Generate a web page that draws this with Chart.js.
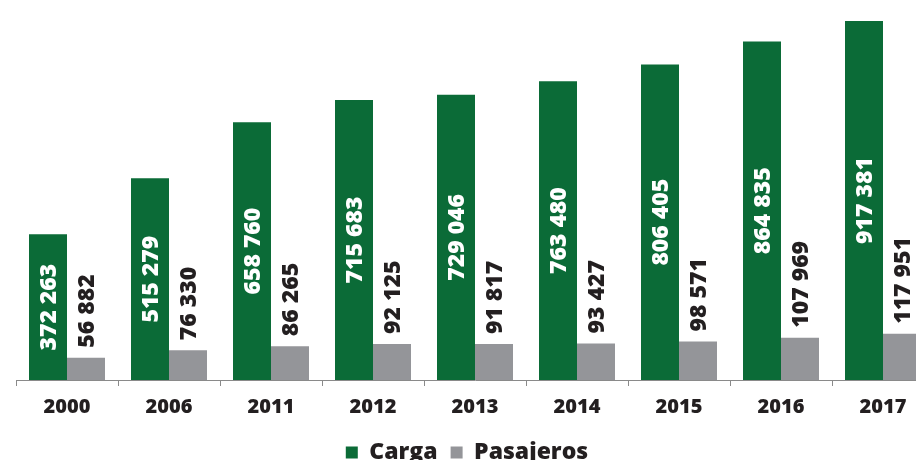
<!DOCTYPE html>
<html>
<head>
<meta charset="utf-8">
<script src="https://cdn.jsdelivr.net/npm/chart.js@4/dist/chart.umd.min.js"></script>
<style>
  html, body { margin: 0; padding: 0; background: #fff; overflow: hidden; }
  #wrap { width: 934px; height: 474px; }
</style>
</head>
<body>
<div id="wrap"><canvas id="chart" width="934" height="474"></canvas></div>
<script>
// Datos del gráfico
const years = ['2000', '2006', '2011', '2012', '2013', '2014', '2015', '2016', '2017'];
const carga = [372263, 515279, 658760, 715683, 729046, 763480, 806405, 864835, 917381];
const pasajeros = [56882, 76330, 86265, 92125, 91817, 93427, 98571, 107969, 117951];

const GREEN = '#0b6b37';
const GRAY = '#949599';
const TEXT = '#231f20';
const FONT = "'Open Sans', 'DejaVu Sans', sans-serif";

const fmt = v => String(v).replace(/\B(?=(\d{3})+(?!\d))/g, ' ');

// Etiquetas verticales sobre las barras
const valueLabels = {
    id: 'valueLabels',
    afterDatasetsDraw(chart) {
        const ctx = chart.ctx;
        ctx.save();
        ctx.font = `800 23px ${FONT}`;
        ctx.textBaseline = 'middle';
        chart.data.datasets.forEach((ds, di) => {
            const meta = chart.getDatasetMeta(di);
            meta.data.forEach((bar, i) => {
                const text = fmt(ds.data[i]);
                ctx.save();
                if (di === 0) {
                    ctx.translate(bar.x, (bar.y + bar.base) / 2);
                    ctx.rotate(-Math.PI / 2);
                    ctx.fillStyle = '#ffffff';
                    ctx.textAlign = 'center';
                } else {
                    ctx.translate(bar.x, bar.y - 10);
                    ctx.rotate(-Math.PI / 2);
                    ctx.fillStyle = TEXT;
                    ctx.textAlign = 'left';
                }
                ctx.fillText(text, 0, 1);
                ctx.restore();
            });
        });
        ctx.restore();
    }
};

new Chart(document.getElementById('chart'), {
    type: 'bar',
    data: {
        labels: years,
        datasets: [
            { label: 'Carga', data: carga, backgroundColor: GREEN },
            { label: 'Pasajeros', data: pasajeros, backgroundColor: GRAY }
        ]
    },
    options: {
        responsive: false,
        animation: false,
        layout: { padding: { top: 0, right: 0, bottom: 0, left: 0 } },
        datasets: {
            bar: { categoryPercentage: 0.745, barPercentage: 1.0 }
        },
        plugins: {
            legend: {
                position: 'bottom',
                labels: {
                    color: TEXT,
                    font: { family: FONT, size: 23, weight: '800' },
                    boxWidth: 12,
                    boxHeight: 12,
                    padding: 13
                }
            },
            tooltip: { enabled: false }
        },
        scales: {
            x: {
                grid: {
                    drawOnChartArea: false,
                    drawTicks: true,
                    tickLength: 6,
                    color: '#8a8a8a'
                },
                border: { color: '#8a8a8a', width: 1 },
                ticks: {
                    color: TEXT,
                    padding: 9,
                    font: { family: FONT, size: 20, weight: '800' }
                }
            },
            y: {
                min: 0,
                max: 971000,
                grid: { display: false },
                border: { display: false },
                ticks: { display: false },
                afterFit: scale => { scale.width = 16; }
            }
        }
    },
    plugins: [valueLabels]
});
</script>
</body>
</html>
